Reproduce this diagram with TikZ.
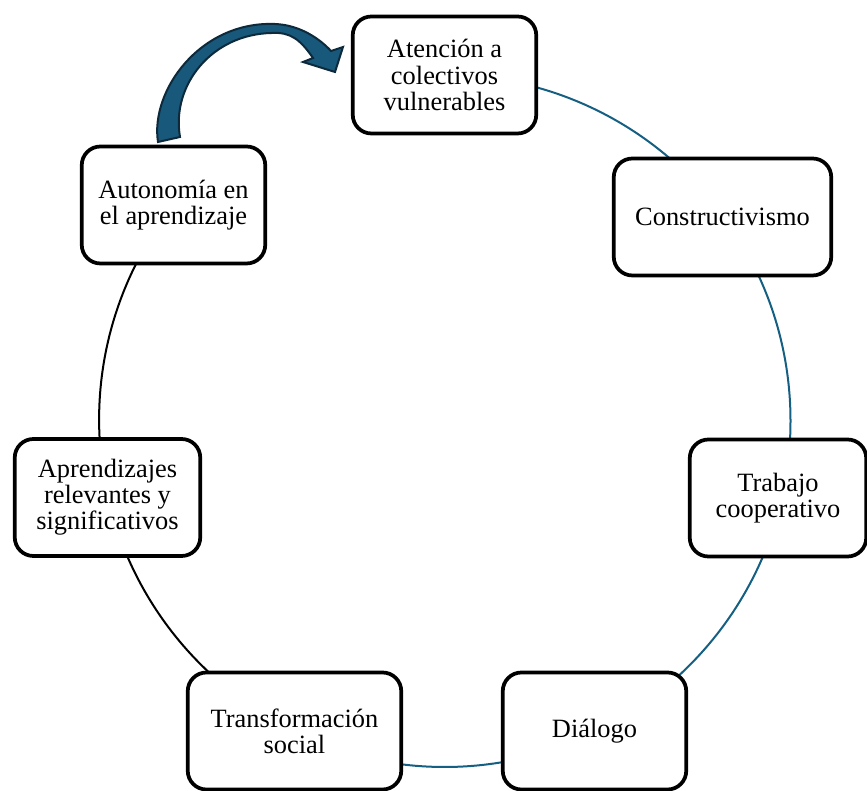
\documentclass[tikz,border=0pt]{standalone}
\usepackage{fontspec}
\setmainfont{Liberation Serif}
\pgfdeclarelayer{bg}
\pgfsetlayers{bg,main}
\definecolor{cyc}{RGB}{21,96,130}
\definecolor{arrfill}{RGB}{24,88,122}
\definecolor{arrline}{RGB}{12,42,60}
\tikzset{
  box/.style={draw=black, fill=white, line width=2.8pt, rounded corners=14pt,
    minimum width=#1*0.75pt, minimum height=117*0.75pt, align=center, inner sep=2pt,
    font=\fontsize{19.8pt}{19.6pt}\selectfont},
  ring/.style={line width=1.5pt},
}
\begin{document}
\begin{tikzpicture}[x=0.75pt, y=0.75pt]
\useasboundingbox (0,0) rectangle (867,791);
\node[box=183.5] (A) at (444.5,716) {Atención a\\colectivos\\vulnerables};
\node[box=217.5] (B) at (722.5,574) {Constructivismo};
\node[box=176.5] (T) at (778,293) {Trabajo\\cooperativo};
\node[box=183.5] (D) at (594.5,60) {Diálogo};
\node[box=213.5] (S) at (294.5,60) {Transformación\\social};
\node[box=185.5] (R) at (107.5,293.5) {Aprendizajes\\relevantes y\\significativos};
\node[box=183.5] (U) at (173.5,586) {Autonomía en\\el aprendizaje};
\begin{pgfonlayer}{bg}
\draw[ring, cyc] (A.center) arc[start angle=90, end angle=-115.8, radius=259.5pt];
\draw[ring, black] (S.center) arc[start angle=-115.8, end angle=-218.7, radius=259.5pt];
\end{pgfonlayer}
\draw[fill=arrfill, draw=arrline, line width=1.5pt, line join=miter]
  (158,649) .. controls (150,700) and (200,770) .. (275,767)
  .. controls (300,766) and (320,752) .. (331,740)
  -- (343,744) -- (335,719) -- (303,729) -- (313,733)
  .. controls (300,752) and (290,759) .. (272,758)
  .. controls (212,757) and (171,706) .. (180,654) -- cycle;
\end{tikzpicture}
\end{document}
